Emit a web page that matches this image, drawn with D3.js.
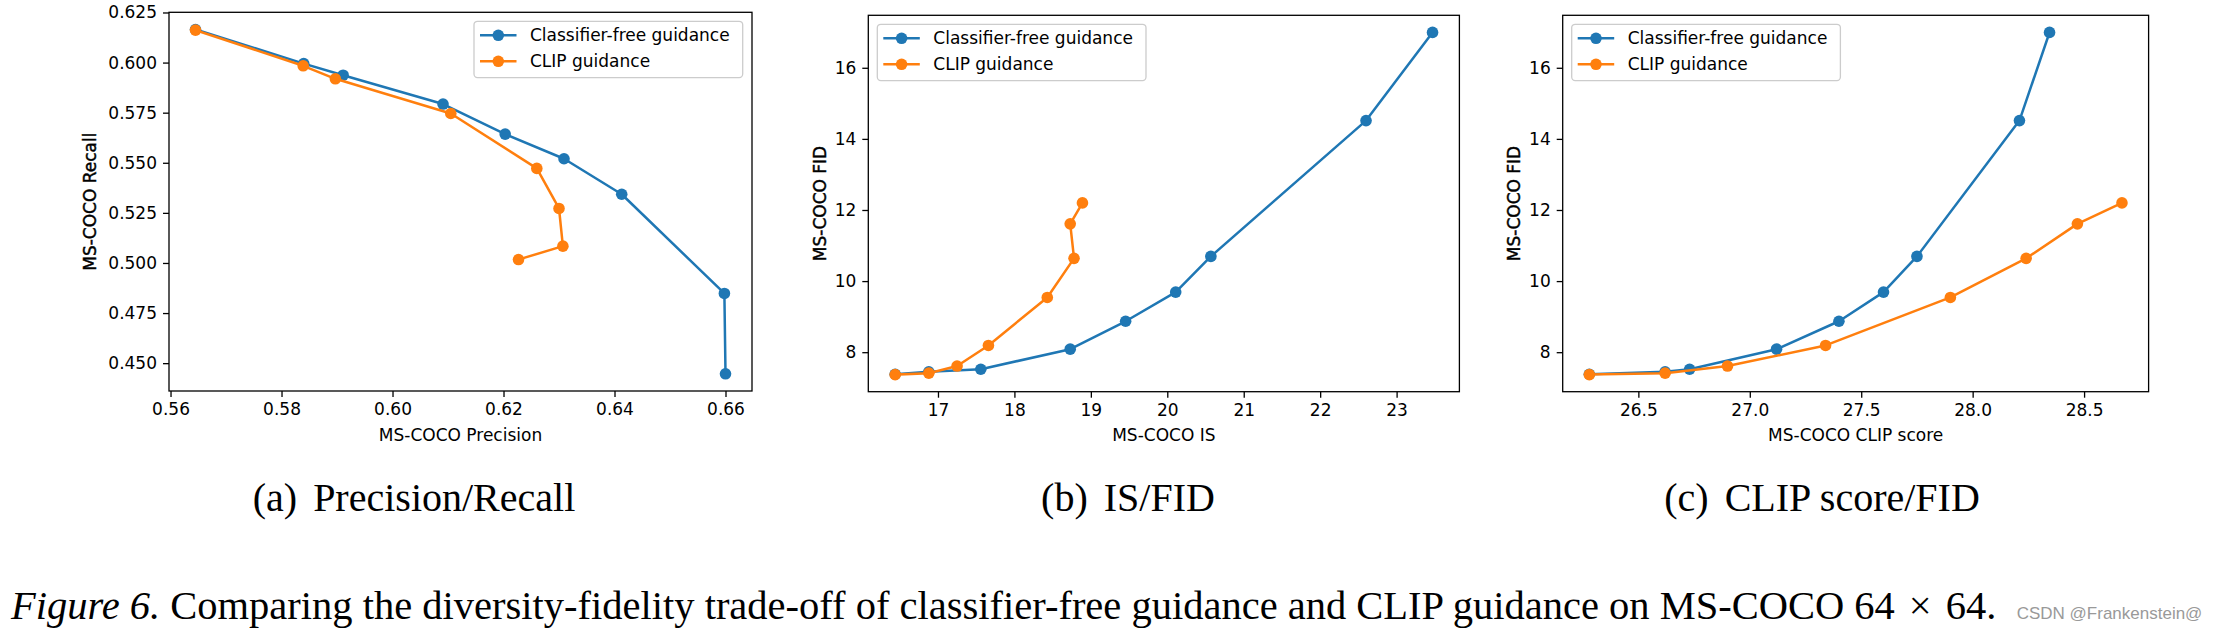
<!DOCTYPE html>
<html><head><meta charset="utf-8">
<script src="https://cdn.jsdelivr.net/npm/d3@7"></script>
<style>body{margin:0;background:#fff}</style>
</head><body><svg id="c" width="2224" height="630" xmlns="http://www.w3.org/2000/svg"></svg>
<script>
// ---- data ----
const seriesNames = ["Classifier-free guidance", "CLIP guidance"];
const seriesColors = ["#1f77b4", "#ff7f0e"];

// Classifier-free guidance
const cfPrecision = [0.5645, 0.5840, 0.5911, 0.6091, 0.6203, 0.6309, 0.6413, 0.6598, 0.6600];
const cfRecall    = [0.6165, 0.5995, 0.5937, 0.5793, 0.5643, 0.5520, 0.5343, 0.4848, 0.4447];
const cfIS        = [16.44, 16.88, 17.56, 18.73, 19.455, 20.11, 20.57, 22.60, 23.47];
const cfCLIPScore = [26.28, 26.62, 26.73, 27.12, 27.40, 27.60, 27.75, 28.21, 28.345];
const cfFID       = [7.38, 7.45, 7.52, 8.085, 8.87, 9.69, 10.695, 14.515, 16.995];

// CLIP guidance
const clipPrecision = [0.5645, 0.5839, 0.5897, 0.6105, 0.6260, 0.6300, 0.6307, 0.6227];
const clipRecall    = [0.6162, 0.5984, 0.5919, 0.5746, 0.5472, 0.5272, 0.5084, 0.5017];
const clipIS        = [16.44, 16.88, 17.25, 17.66, 18.43, 18.78, 18.73, 18.89];
const clipCLIPScore = [26.28, 26.62, 26.90, 27.34, 27.90, 28.24, 28.47, 28.67];
const clipFID       = [7.37, 7.41, 7.61, 8.19, 9.54, 10.64, 11.61, 12.20];

// tick values
const precisionTicks = [0.56, 0.58, 0.60, 0.62, 0.64, 0.66];
const recallTicks = [0.450, 0.475, 0.500, 0.525, 0.550, 0.575, 0.600, 0.625];
const isTicks = [17, 18, 19, 20, 21, 22, 23];
const clipScoreTicks = [26.5, 27.0, 27.5, 28.0, 28.5];
const fidTicks = [8, 10, 12, 14, 16];

const subCaptions = [["(a)", "Precision/Recall"], ["(b)", "IS/FID"], ["(c)", "CLIP score/FID"]];
const figCaptionItalic = "Figure 6.";
const figCaptionRest = " Comparing the diversity-fidelity trade-off of classifier-free guidance and CLIP guidance on MS-COCO 64";
const figCaptionMath = ["\u00d7", "64."];
const watermark = "CSDN @Frankenstein@";

// ---- layout ----
const svg = d3.select("#c");
const FONT = "DejaVu Sans";
const FS = 17;

const panels = [
  {box: [169, 752, 12.3, 391], xs: [cfPrecision, clipPrecision], ys: [cfRecall, clipRecall],
   xt: precisionTicks, yt: recallTicks, xf: d3.format(".2f"), yf: d3.format(".3f"),
   xl: "MS-COCO Precision", yl: "MS-COCO Recall", ylx: 96, legend: "right", cap: 414},
  {box: [868.3, 1459.4, 15.3, 391.7], xs: [cfIS, clipIS], ys: [cfFID, clipFID],
   xt: isTicks, yt: fidTicks, xf: d3.format("d"), yf: d3.format("d"),
   xl: "MS-COCO IS", yl: "MS-COCO FID", ylx: 826, legend: "left", cap: 1128},
  {box: [1562.7, 2148.6, 15.3, 391.7], xs: [cfCLIPScore, clipCLIPScore], ys: [cfFID, clipFID],
   xt: clipScoreTicks, yt: fidTicks, xf: d3.format(".1f"), yf: d3.format("d"),
   xl: "MS-COCO CLIP score", yl: "MS-COCO FID", ylx: 1520, legend: "left", cap: 1822}
];

function padded(arrs) {
  const all = arrs.flat();
  const [lo, hi] = d3.extent(all);
  const m = (hi - lo) * 0.05;
  return [lo - m, hi + m];
}

const R_MARK = 5.8;

panels.forEach((p, pi) => {
  const [L, R, T, B] = p.box;
  const x = d3.scaleLinear().domain(padded(p.xs)).range([L, R]);
  const y = d3.scaleLinear().domain(padded(p.ys)).range([B, T]);
  const g = svg.append("g");

  // series
  const line = d3.line();
  p.xs.forEach((xa, si) => {
    const pts = xa.map((v, i) => [x(v), y(p.ys[si][i])]);
    g.append("path").attr("d", line(pts)).attr("fill", "none")
      .attr("stroke", seriesColors[si]).attr("stroke-width", 2.5)
      .attr("stroke-linejoin", "round").attr("stroke-linecap", "square");
    g.selectAll(null).data(pts).enter().append("circle")
      .attr("cx", d => d[0]).attr("cy", d => d[1]).attr("r", R_MARK)
      .attr("fill", seriesColors[si]);
  });

  // axes
  const xa = g.append("g").attr("transform", `translate(0,${B})`)
    .call(d3.axisBottom(x).tickValues(p.xt).tickFormat(p.xf).tickSize(6).tickPadding(6));
  const ya = g.append("g").attr("transform", `translate(${L},0)`)
    .call(d3.axisLeft(y).tickValues(p.yt).tickFormat(p.yf).tickSize(6).tickPadding(6));
  [xa, ya].forEach(a => {
    a.select(".domain").remove();
    a.selectAll("line").attr("stroke", "#000").attr("stroke-width", 1.3);
    a.selectAll("text").attr("font-family", FONT).attr("font-size", FS).attr("fill", "#000");
  });
  g.append("rect").attr("x", L).attr("y", T).attr("width", R - L).attr("height", B - T)
    .attr("fill", "none").attr("stroke", "#000").attr("stroke-width", 1.3);

  // axis labels
  g.append("text").attr("x", (L + R) / 2).attr("y", 440.5).attr("text-anchor", "middle")
    .attr("font-family", FONT).attr("font-size", FS).text(p.xl);
  g.append("text").attr("transform", `translate(${p.ylx},${(T + B) / 2}) rotate(-90)`)
    .attr("text-anchor", "middle").attr("font-family", FONT).attr("font-size", FS)
    .attr("stroke", "#000").attr("stroke-width", 0.45).text(p.yl);

  // legend
  const lw = 268.7, lh = 56.3;
  const lx = p.legend === "right" ? R - 9.3 - lw : L + 9;
  const ly = T + 9;
  const lg = g.append("g");
  lg.append("rect").attr("x", lx).attr("y", ly).attr("width", lw).attr("height", lh)
    .attr("rx", 3.5).attr("fill", "#fff").attr("fill-opacity", 0.8)
    .attr("stroke", "#cccccc").attr("stroke-width", 1.3);
  seriesNames.forEach((nm, si) => {
    const cy = ly + 14 + si * 26;
    lg.append("line").attr("x1", lx + 6).attr("x2", lx + 42.5).attr("y1", cy).attr("y2", cy)
      .attr("stroke", seriesColors[si]).attr("stroke-width", 2.5);
    lg.append("circle").attr("cx", lx + 24.3).attr("cy", cy).attr("r", R_MARK).attr("fill", seriesColors[si]);
    lg.append("text").attr("x", lx + 56).attr("y", cy).attr("dy", "0.36em")
      .attr("font-family", FONT).attr("font-size", FS).text(nm);
  });

  // sub caption
  const sc = svg.append("text").attr("x", p.cap).attr("y", 510.7).attr("text-anchor", "middle")
    .attr("font-family", "Liberation Serif").attr("font-size", 40).attr("fill", "#000");
  sc.append("tspan").text(subCaptions[pi][0]);
  sc.append("tspan").attr("dx", 16).text(subCaptions[pi][1]);
});

// figure caption
const fc = svg.append("text").attr("x", 11).attr("y", 619)
  .attr("font-family", "Liberation Serif").attr("font-size", 40.5).attr("fill", "#000");
fc.append("tspan").attr("font-style", "italic").text(figCaptionItalic);
fc.append("tspan").text(figCaptionRest);
fc.append("tspan").attr("dx", 14).text(figCaptionMath[0]);
fc.append("tspan").attr("dx", 14).text(figCaptionMath[1]);

svg.append("text").attr("x", 2016.7).attr("y", 619).attr("font-family", "Liberation Sans")
  .attr("font-size", 17).attr("fill", "#999").text(watermark);
</script>
</body></html>
